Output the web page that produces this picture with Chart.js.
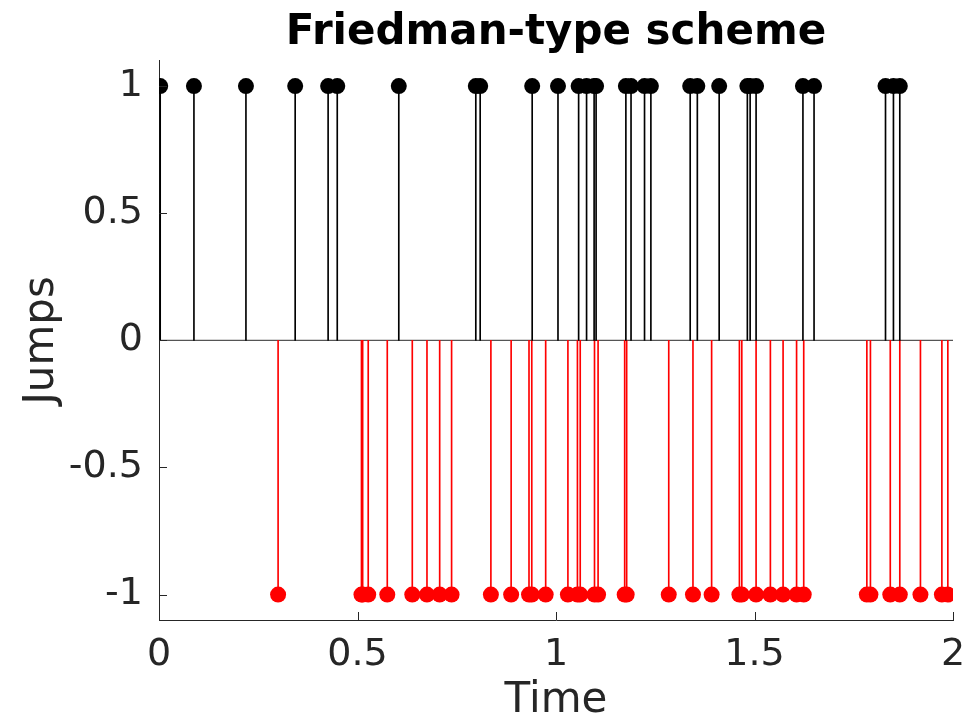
<!DOCTYPE html>
<html>
<head>
<meta charset="utf-8">
<title>Friedman-type scheme</title>
<script src="https://cdn.jsdelivr.net/npm/chart.js@4/dist/chart.umd.min.js"></script>
<style>
    html, body {
        margin: 0;
        padding: 0;
        background: #ffffff;
    }
    #wrap {
        width: 979px;
        height: 723px;
    }
</style>
</head>
<body>
<div id="wrap">
    <canvas id="jumps-chart" width="979" height="723"></canvas>
</div>
<script>
// jump times of the two sides
const upTimes = [0.003, 0.088, 0.219, 0.343, 0.426, 0.449, 0.604, 0.798, 0.809, 0.940,
    1.005, 1.057, 1.077, 1.096, 1.101, 1.176, 1.189, 1.223, 1.239, 1.338,
    1.356, 1.411, 1.482, 1.489, 1.504, 1.622, 1.650, 1.830, 1.850, 1.866];
const downTimes = [0.300, 0.510, 0.513, 0.527, 0.575, 0.638, 0.675, 0.707, 0.737, 0.836,
    0.887, 0.932, 0.939, 0.974, 1.030, 1.054, 1.061, 1.097, 1.106, 1.173,
    1.178, 1.284, 1.345, 1.392, 1.462, 1.468, 1.504, 1.540, 1.572, 1.606,
    1.624, 1.783, 1.792, 1.842, 1.866, 1.918, 1.972, 1.987];
const upSize = 1;
const downSize = -1;

const xTicks = [0, 0.5, 1, 1.5, 2];
const yTicks = [-1, -0.5, 0, 0.5, 1];
const xRange = [0, 2];
const yRange = [-1.1, 1.1];

const axisColor = '#262626';
const fontFamily = '"DejaVu Sans", sans-serif';

const upPoints = upTimes.map(t => ({ x: t, y: upSize }));
const downPoints = downTimes.map(t => ({ x: t, y: downSize }));

// small inward tick marks, MATLAB style
const inwardTicks = {
    id: 'inwardTicks',
    afterDraw(chart) {
        const ctx = chart.ctx;
        const xs = chart.scales.x;
        const ys = chart.scales.y;
        const len = 8;
        ctx.save();
        ctx.strokeStyle = axisColor;
        ctx.lineWidth = 1;
        ctx.beginPath();
        xs.ticks.forEach(t => {
            const px = Math.round(xs.getPixelForValue(t.value)) + 0.5;
            ctx.moveTo(px, ys.bottom);
            ctx.lineTo(px, ys.bottom - len);
        });
        ys.ticks.forEach(t => {
            const py = Math.round(ys.getPixelForValue(t.value)) + 0.5;
            ctx.moveTo(xs.left, py);
            ctx.lineTo(xs.left + len, py);
        });
        ctx.stroke();
        ctx.restore();
    }
};

const ctx = document.getElementById('jumps-chart').getContext('2d');

new Chart(ctx, {
    type: 'scatter',
    data: {
        datasets: [
            {
                label: 'up markers',
                data: upPoints,
                pointRadius: 8,
                pointBackgroundColor: '#000000',
                pointBorderWidth: 0
            },
            {
                label: 'down markers',
                data: downPoints,
                pointRadius: 8,
                pointBackgroundColor: '#ff0000',
                pointBorderWidth: 0
            },
            {
                type: 'bar',
                label: 'up stems',
                data: upPoints,
                backgroundColor: '#000000',
                borderWidth: 0,
                barThickness: 1,
                grouped: false
            },
            {
                type: 'bar',
                label: 'down stems',
                data: downPoints,
                backgroundColor: '#ff0000',
                borderWidth: 0,
                barThickness: 1,
                grouped: false
            },
            {
                type: 'line',
                label: 'baseline',
                data: [{ x: xRange[0], y: 0 }, { x: xRange[1], y: 0 }],
                borderColor: '#555555',
                borderWidth: 1.3,
                pointRadius: 0
            }
        ]
    },
    options: {
        responsive: false,
        animation: false,
        devicePixelRatio: 1,
        layout: {
            padding: { left: 0, right: 26, top: 0, bottom: 0 }
        },
        plugins: {
            legend: { display: false },
            tooltip: { enabled: false },
            title: {
                display: true,
                fullSize: false,
                text: 'Friedman-type scheme',
                color: '#000000',
                font: { family: fontFamily, size: 42, weight: 'bold', lineHeight: 1.2 },
                padding: { top: 8, bottom: 2.3 }
            }
        },
        scales: {
            x: {
                type: 'linear',
                offset: false,
                min: xRange[0],
                max: xRange[1],
                afterBuildTicks(scale) {
                    scale.ticks = xTicks.map(v => ({ value: v }));
                },
                afterFit(scale) {
                    scale.height = 103;
                },
                grid: { display: false, drawTicks: false },
                border: { display: true, color: axisColor, width: 1 },
                ticks: {
                    color: axisColor,
                    padding: 12,
                    maxRotation: 0,
                    font: { family: fontFamily, size: 38, lineHeight: 1.2 },
                    callback: v => String(v)
                },
                title: {
                    display: true,
                    text: 'Time',
                    color: axisColor,
                    font: { family: fontFamily, size: 42, lineHeight: 1 },
                    padding: { top: 0, bottom: 1 }
                }
            },
            y: {
                type: 'linear',
                min: yRange[0],
                max: yRange[1],
                afterBuildTicks(scale) {
                    scale.ticks = yTicks.map(v => ({ value: v }));
                },
                afterFit(scale) {
                    scale.width = 159;
                },
                grid: { display: false, drawTicks: false },
                border: { display: true, color: axisColor, width: 1 },
                ticks: {
                    color: axisColor,
                    padding: 16,
                    font: { family: fontFamily, size: 38, lineHeight: 1.2 },
                    callback: v => String(v)
                },
                title: {
                    display: true,
                    text: 'Jumps',
                    color: axisColor,
                    font: { family: fontFamily, size: 42, lineHeight: 1 },
                    padding: { top: 21, bottom: 0 }
                }
            }
        }
    },
    plugins: [inwardTicks]
});
</script>
</body>
</html>
